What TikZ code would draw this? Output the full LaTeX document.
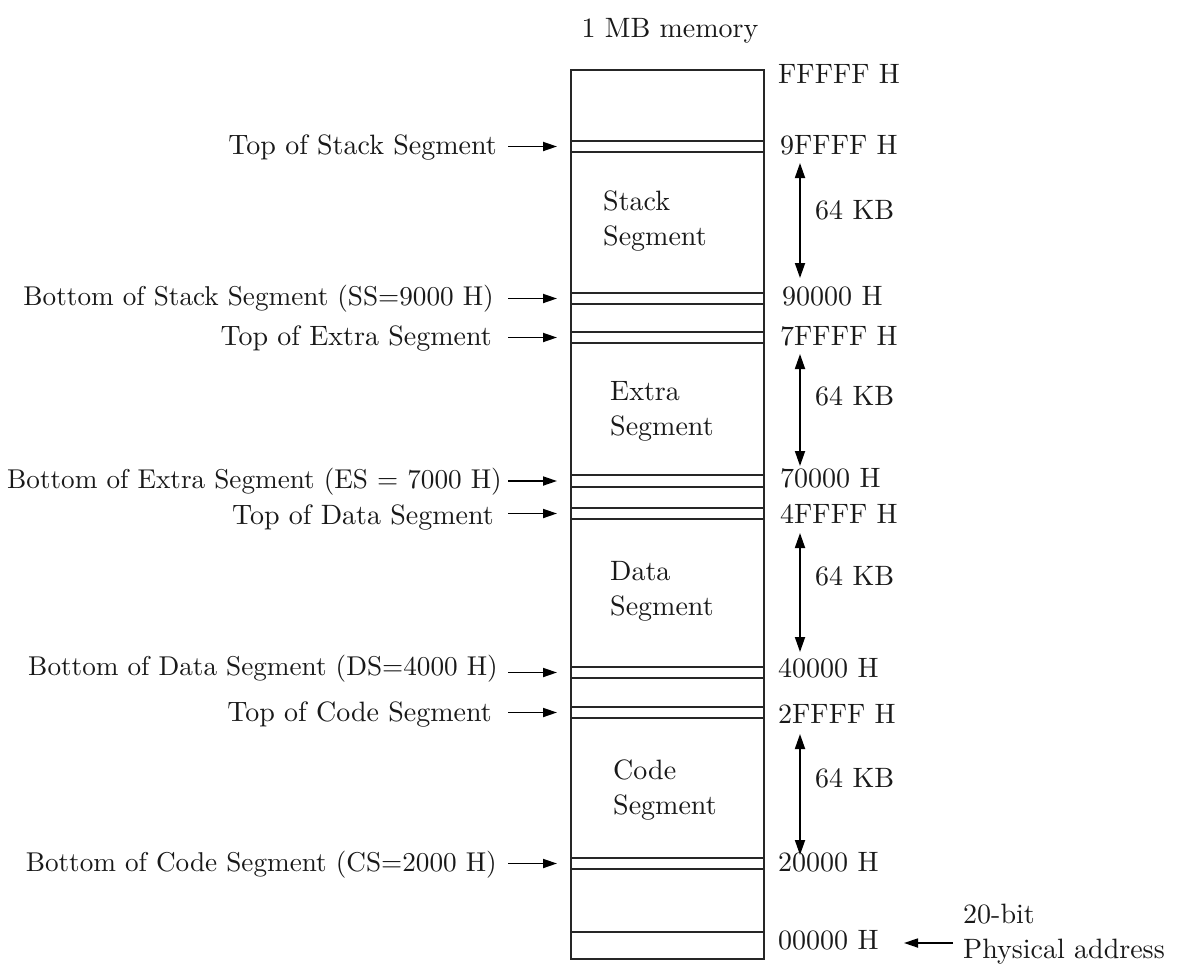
\documentclass[tikz,border=0pt]{standalone}
\usetikzlibrary{arrows.meta}
\DeclareFontFamily{TU}{lmten}{}
\DeclareFontShape{TU}{lmten}{m}{n}{<-> \UnicodeFontFile{lmroman10-regular}{\UnicodeFontTeXLigatures}}{}
\begin{document}
\begin{tikzpicture}[x=1pt,y=-1pt,
  txt/.style={font=\fontfamily{lmten}\fontsize{28}{35}\selectfont, inner sep=0pt, text=black!90},
  longtxt/.style={txt, font=\fontfamily{lmten}\fontsize{27.2}{35}\selectfont},
  segtxt/.style={txt, align=left, anchor=north west},
  memline/.style={draw=black!85, line width=1.9pt},
  ptr/.style={draw=black, line width=1.8pt, -{Triangle[length=14pt,width=9pt]}},
  span/.style={draw=black, line width=1.8pt, {Triangle[length=15pt,width=10pt]}-{Triangle[length=15pt,width=10pt]}}]
\useasboundingbox (0,0) rectangle (1183,967);
\fill[white] (0,0) rectangle (1183,967);

% title
\node[txt] (title) at (670,31) {1 MB memory};

% memory box
\node[memline, draw, minimum width=193pt, minimum height=889pt, inner sep=0pt, anchor=north west] (mem) at (570,69) {};

% double lines
\foreach \a/\b in {141/152, 293/304, 332/343, 475/487, 508/519, 667/678, 707/718, 858/869}{
  \draw[memline] (570,\a) -- (763,\a);
  \draw[memline] (570,\b) -- (763,\b);
}
\draw[memline] (570,932) -- (763,932);

% segment names
\node[segtxt] (ss) at (603,191) {Stack\\Segment};
\node[segtxt] (es) at (610,381) {Extra\\Segment};
\node[segtxt] (ds) at (610,561) {Data\\Segment};
\node[segtxt] (cs) at (613,760) {Code\\Segment};

% right-hand addresses
\node[txt, anchor=mid west] (aF) at (778,81) {FFFFF H};
\node[txt, anchor=mid west] (a9F) at (780,152) {9FFFF H};
\node[txt, anchor=mid west] (a90) at (782,303) {90000 H};
\node[txt, anchor=mid west] (a7F) at (780,343) {7FFFF H};
\node[txt, anchor=mid west] (a70) at (780,485) {70000 H};
\node[txt, anchor=mid west] (a4F) at (780,521) {4FFFF H};
\node[txt, anchor=mid west] (a40) at (778,675) {40000 H};
\node[txt, anchor=mid west] (a2F) at (778,721) {2FFFF H};
\node[txt, anchor=mid west] (a20) at (778,869) {20000 H};
\node[txt, anchor=mid west] (a00) at (778,947) {00000 H};

% 64 KB spans
\coordinate (s1t) at (800,163); \coordinate (s1b) at (800,278);
\coordinate (s2t) at (800,354); \coordinate (s2b) at (800,466);
\coordinate (s3t) at (800,533); \coordinate (s3b) at (800,652);
\coordinate (s4t) at (800,734); \coordinate (s4b) at (800,855);
\draw[span] (s1t) -- (s1b);
\draw[span] (s2t) -- (s2b);
\draw[span] (s3t) -- (s3b);
\draw[span] (s4t) -- (s4b);
\node[txt, anchor=mid west] (k1) at (815,217) {64 KB};
\node[txt, anchor=mid west] (k2) at (815,403) {64 KB};
\node[txt, anchor=mid west] (k3) at (815,583) {64 KB};
\node[txt, anchor=mid west] (k4) at (815,785) {64 KB};

% left-hand labels and pointers
\node[txt, anchor=mid east] (l1) at (497,152) {Top of Stack Segment};
\node[longtxt, anchor=mid east] (l2) at (494,303) {Bottom of Stack Segment (SS=9000 H)};
\node[txt, anchor=mid east] (l3) at (492,343) {Top of Extra Segment};
\node[longtxt, anchor=mid east] (l4) at (502,486) {Bottom of Extra Segment (ES = 7000 H)};
\node[txt, anchor=mid east] (l5) at (494,522) {Top of Data Segment};
\node[longtxt, anchor=mid east] (l6) at (498,673) {Bottom of Data Segment (DS=4000 H)};
\node[txt, anchor=mid east] (l7) at (492,719) {Top of Code Segment};
\node[longtxt, anchor=mid east] (l8) at (497,869) {Bottom of Code Segment (CS=2000 H)};

\coordinate (p1) at (557,146.5);
\coordinate (p2) at (557,298.5);
\coordinate (p3) at (557,337.5);
\coordinate (p4) at (557,481);
\coordinate (p5) at (557,513.5);
\coordinate (p6) at (557,672.5);
\coordinate (p7) at (557,712.5);
\coordinate (p8) at (557,863.5);
\draw[ptr] (508,146.5) -- (p1);
\draw[ptr] (508,298.5) -- (p2);
\draw[ptr] (508,337.5) -- (p3);
\draw[ptr] (508,481) -- (p4);
\draw[ptr] (508,513.5) -- (p5);
\draw[ptr] (508,672.5) -- (p6);
\draw[ptr] (508,712.5) -- (p7);
\draw[ptr] (508,863.5) -- (p8);

% physical address note
\node[txt, align=left, anchor=north west] (phys) at (963,904) {20-bit\\Physical address};
\coordinate (q0) at (953,943);
\coordinate (q1) at (904,943);
\draw[ptr] (q0) -- (q1);
\end{tikzpicture}
\end{document}
